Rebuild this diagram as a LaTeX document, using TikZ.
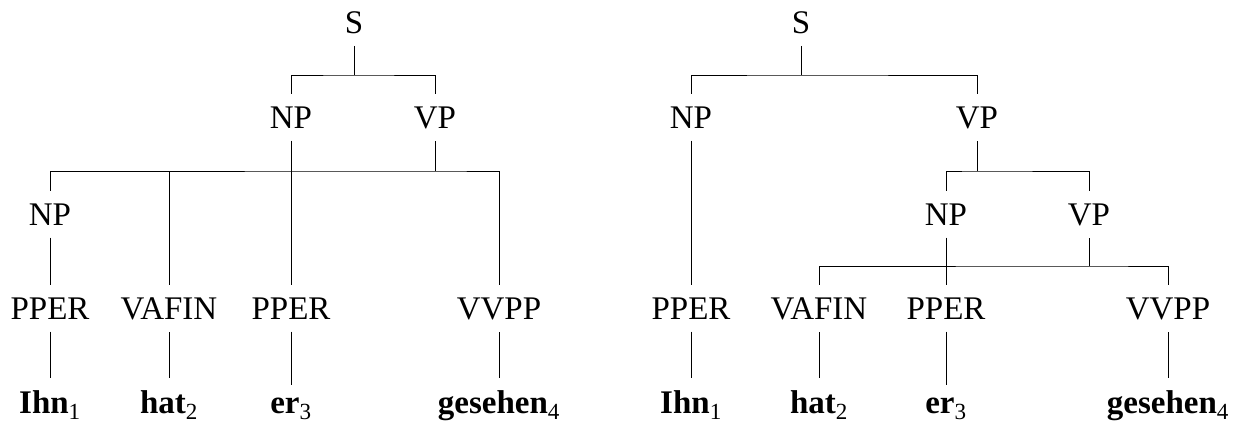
\documentclass[tikz,border=0pt]{standalone}
\usepackage{fontspec}
\setmainfont{Liberation Serif}
\newcommand\wsub[1]{\textsubscript{\normalfont #1}}
\begin{document}
\begin{tikzpicture}[x=1pt,y=-1pt,
  every node/.style={font=\fontsize{33}{40}\selectfont, inner sep=0pt, outer sep=12.5pt, anchor=base},
  word/.style={font=\fontsize{33}{40}\selectfont\bfseries},
  edge/.style={line width=0.9pt}]
\useasboundingbox (0,0) rectangle (1256,423);
% ---------------- left tree ----------------
\node (S1) at (354,33) {S};
\node (NP1) at (291,128) {NP};
\node (VP1) at (435,128) {VP};
\node (NP1b) at (50,225) {NP};
\node (T11) at (50,319) {PPER};
\node (T12) at (169,319) {VAFIN};
\node (T13) at (291,319) {PPER};
\node (T14) at (499,319) {VVPP};
\node[word] (W11) at (50,413) {Ihn\wsub{1}};
\node[word] (W12) at (169,413) {hat\wsub{2}};
\node[word] (W13) at (291,413) {er\wsub{3}};
\node[word] (W14) at (499,413) {gesehen\wsub{4}};
\coordinate (b11) at (354,75);
\coordinate (b12) at (435,171);
\draw[edge] (S1.south) -- (b11);
\draw[edge] (NP1.north) |- (b11) -| (VP1.north);
\draw[edge] (VP1.south) -- (b12);
\draw[edge] (NP1b.north) |- (b12) -| (T14.north);
\draw[edge] (T12.north) -- (T12.north |- b12);
\draw[edge] (NP1.south) -- (T13.north);
\draw[edge] (NP1b.south) -- (T11.north);
\draw[edge] (T11.south) -- (W11.north);
\draw[edge] (T12.south) -- (W12.north);
\draw[edge] (T13.south) -- (W13.north);
\draw[edge] (T14.south) -- (W14.north);
% ---------------- right tree ----------------
\node (S2) at (801,33) {S};
\node (NP2) at (691,128) {NP};
\node (VP2) at (977,128) {VP};
\node (NP2b) at (946,225) {NP};
\node (VP2b) at (1089,225) {VP};
\node (T21) at (691,319) {PPER};
\node (T22) at (819,319) {VAFIN};
\node (T23) at (946,319) {PPER};
\node (T24) at (1168,319) {VVPP};
\node[word] (W21) at (691,413) {Ihn\wsub{1}};
\node[word] (W22) at (819,413) {hat\wsub{2}};
\node[word] (W23) at (946,413) {er\wsub{3}};
\node[word] (W24) at (1168,413) {gesehen\wsub{4}};
\coordinate (b21) at (801,75);
\coordinate (b22) at (977,171);
\coordinate (b23) at (1089,266);
\draw[edge] (S2.south) -- (b21);
\draw[edge] (NP2.north) |- (b21) -| (VP2.north);
\draw[edge] (VP2.south) -- (b22);
\draw[edge] (NP2b.north) |- (b22) -| (VP2b.north);
\draw[edge] (VP2b.south) -- (b23);
\draw[edge] (T22.north) |- (b23) -| (T24.north);
\draw[edge] (NP2.south) -- (T21.north);
\draw[edge] (NP2b.south) -- (T23.north);
\draw[edge] (T21.south) -- (W21.north);
\draw[edge] (T22.south) -- (W22.north);
\draw[edge] (T23.south) -- (W23.north);
\draw[edge] (T24.south) -- (W24.north);
\end{tikzpicture}
\end{document}
